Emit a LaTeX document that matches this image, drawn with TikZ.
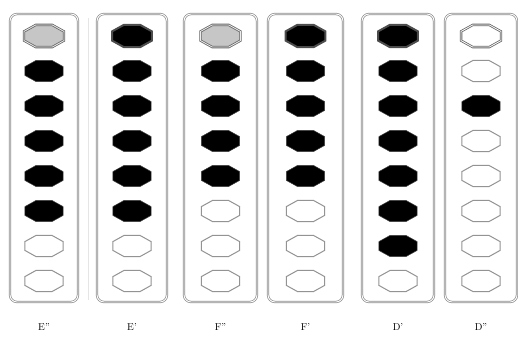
\documentclass[tikz,border=0pt]{standalone}
\usetikzlibrary{shapes.geometric}

\tikzset{
	panel/.style={draw=gray!90, double=white, double distance=0.9pt, line width=0.7pt, rounded corners=7pt, minimum height=288pt, inner sep=0pt},
	octagon/.style={regular polygon, regular polygon sides=8, transform shape, inner sep=0pt},
	hole/.style={octagon, minimum size=23pt, xscale=1.8},
	closed/.style={hole, fill=black, draw=gray!50!black, line width=0.5pt},
	open/.style={hole, fill=white, draw=gray!85, line width=1pt},
	top/.style={octagon, minimum size=24pt, xscale=1.8},
	halftop/.style={top, fill=gray!45, draw=gray!80!black, double=gray!15, double distance=0.8pt, line width=0.8pt},
	closedtop/.style={top, fill=black, draw=gray!60!black, line width=2pt},
	opentop/.style={top, fill=white, draw=gray!80!black, double=white, double distance=0.8pt, line width=0.8pt}
}

\begin{document}
\begin{tikzpicture}[x=1pt,y=-1pt]
	\useasboundingbox (0,0) rectangle (518,338);
	\draw[gray!20, line width=1pt] (88,18) -- (88,300);
	\foreach \c/\x/\w/\lab/\holes in {
		1/44/68/E''/{halftop,closed,closed,closed,closed,closed,open,open},
		2/132/70/E'/{closedtop,closed,closed,closed,closed,closed,open,open},
		3/220.5/73/F''/{halftop,closed,closed,closed,closed,open,open,open},
		4/305.5/75/F'/{closedtop,closed,closed,closed,closed,open,open,open},
		5/398/72/D'/{closedtop,closed,closed,closed,closed,closed,closed,open},
		6/481/72/D''/{opentop,open,closed,open,open,open,open,open}}
	{
		\node[panel, minimum width=\w pt] (p\c) at (\x,158) {};
		\foreach \s [count=\r] in \holes
			\node[\s] (h\c-\r) at (\x,{36+35*(\r-1)}) {};
		\node (l\c) at (\x,327) {\lab};
	}
\end{tikzpicture}
\end{document}
